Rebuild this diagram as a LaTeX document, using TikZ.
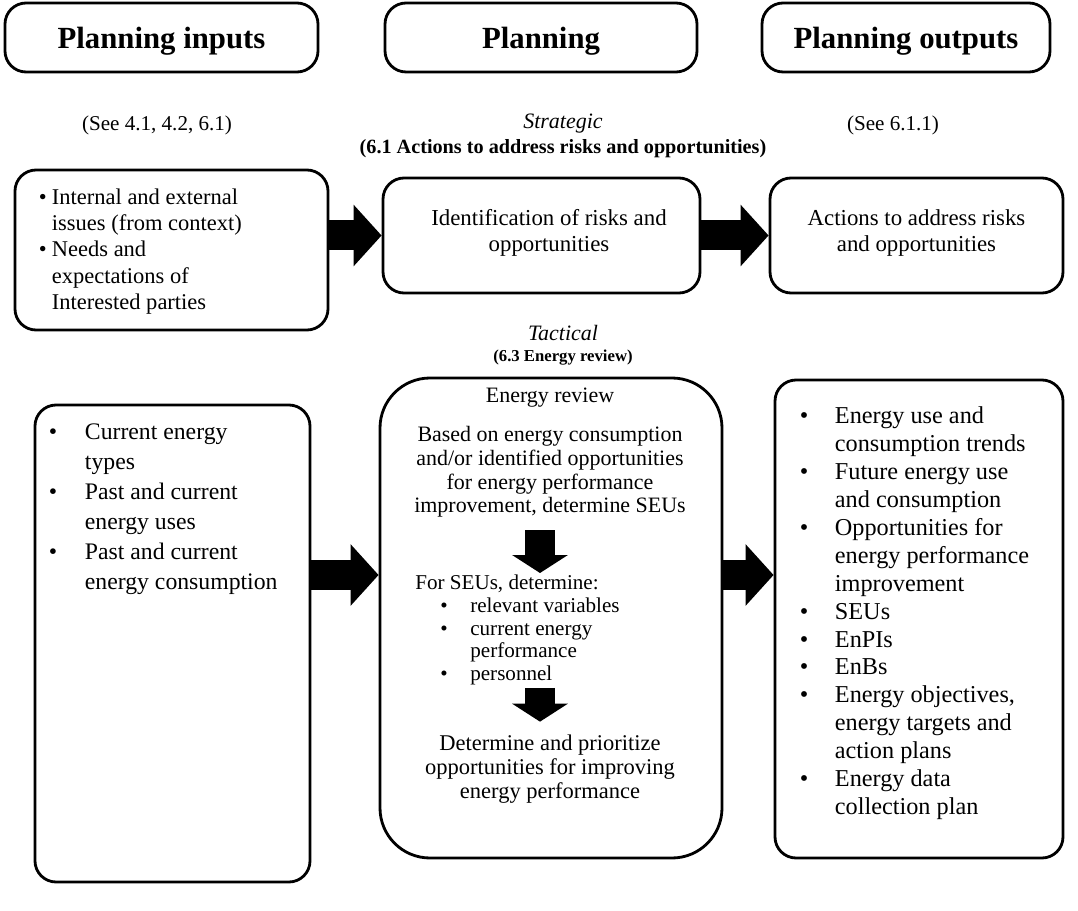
\documentclass[tikz,border=0pt]{standalone}
\usepackage{fontspec}
\usepackage{array}
\setmainfont{Liberation Serif}
\usetikzlibrary{arrows.meta, positioning, calc}
\tikzset{
	headbox/.style  ={rectangle, rounded corners=12pt, draw=black, line width=1.6pt, minimum height=1.38cm, text depth=0pt, font=\fontsize{17.5}{20}\selectfont\bfseries},
	infobox/.style  ={rectangle, rounded corners=12pt, draw=black, line width=1.6pt},
	reviewbox/.style={rectangle, rounded corners=1cm, draw=black, line width=1.6pt},
	boxtext/.style  ={align=center, inner sep=0pt, font=\fontsize{12.5}{13.5}\selectfont},
	listtext/.style ={inner sep=0pt, font=\fontsize{12}{14.5}\selectfont},
	refnote/.style  ={inner sep=1pt, font=\fontsize{12}{14}\selectfont},
	levelname/.style={inner sep=1pt, font=\fontsize{12.5}{14}\selectfont\itshape},
	levelref/.style ={inner sep=1pt, font=\fontsize{9.5}{11}\selectfont\bfseries},
	% block arrows
	blockarrow/.style={line width=0.6cm, -{Triangle[length=0.56cm, width=1.2cm]}},
	downarrow/.style ={line width=0.6cm, -{Triangle[length=0.36cm, width=1.1cm]}},
}
\newcommand{\bul}{\textbullet}

\begin{document}
\begin{tikzpicture}
	\useasboundingbox (0,0) rectangle (21.56,-18.22);
	% column heads
	\node[headbox, minimum width=6.26cm] (hin)   at (3.23,-0.75)  {Planning inputs};
	\node[headbox, minimum width=6.24cm] (hplan) at (10.82,-0.75) {Planning};
	\node[headbox, minimum width=5.76cm] (hout)  at (18.12,-0.75) {Planning outputs};
	\node[refnote] (seein)  at (3.14,-2.5)  {(See 4.1, 4.2, 6.1)};
	\node[refnote] (seeout) at (17.86,-2.5) {(See 6.1.1)};
	\node[levelname] (strat) at (11.26,-2.48) {Strategic};
	\node[levelref, below=1pt of strat, font=\fontsize{11.5}{13}\selectfont\bfseries] (stratref) {(6.1 Actions to address risks and opportunities)};

	% strategic row
	\node[infobox, minimum width=6.26cm, minimum height=3.2cm] (b1) at (3.43,-5.0) {};
	\node[infobox, minimum width=6.34cm, minimum height=2.3cm] (b2) at (10.83,-4.71) {};
	\node[infobox, minimum width=5.86cm, minimum height=2.3cm] (b3) at (18.33,-4.71) {};
	\node[listtext, anchor=west, font=\fontsize{12.8}{15}\selectfont] (t1) at ([xshift=0.5cm,yshift=-0.03cm]b1.west) {%
		\begin{tabular}{@{}>{\raggedright}p{0.26cm}@{}l@{}}
		\bul & Internal and external\\
		     & issues (from context)\\
		\bul & Needs and\\
		     & expectations of\\
		     & Interested parties
		\end{tabular}};
	\node[boxtext, font=\fontsize{13}{14.5}\selectfont] (t2) at ([xshift=0.15cm,yshift=0.05cm]b2.center) {Identification of risks and\\opportunities};
	\node[boxtext, font=\fontsize{13}{14.5}\selectfont] (t3) at ([yshift=0.05cm]b3.center) {Actions to address risks\\and opportunities};
	\draw[blockarrow] (b1.east |- b2.west) -- (b2.west);
	\draw[blockarrow] (b2.east) -- (b3.west);

	% tactical row
	\node[levelname] (tact) at (11.26,-6.66) {Tactical};
	\node[levelref, below=3pt of tact] (tactref) {(6.3 Energy review)};
	\node[infobox, minimum width=5.5cm, minimum height=9.54cm] (b4) at (3.45,-12.87) {};
	\node[reviewbox, minimum width=6.84cm, minimum height=9.6cm] (b5) at (11.02,-12.36) {};
	\node[infobox, minimum width=5.76cm, minimum height=9.56cm] (b6) at (18.38,-12.38) {};
	\node[listtext, anchor=north west, font=\fontsize{13.5}{17}\selectfont] (t4) at ([xshift=0.3cm,yshift=-0.3cm]b4.north west) {%
		\begin{tabular}{@{}p{0.72cm}@{}l@{}}
		\bul & Current energy\\
		     & types\\
		\bul & Past and current\\
		     & energy uses\\
		\bul & Past and current\\
		     & energy consumption
		\end{tabular}};
	\node[listtext, anchor=north west, font=\fontsize{13.8}{15.9}\selectfont] (t6) at ([xshift=0.52cm,yshift=-0.5cm]b6.north west) {%
		\begin{tabular}{@{}p{0.7cm}@{}l@{}}
		\bul & Energy use and\\
		     & consumption trends\\
		\bul & Future energy use\\
		     & and consumption\\
		\bul & Opportunities for\\
		     & energy performance\\
		     & improvement\\
		\bul & SEUs\\
		\bul & EnPIs\\
		\bul & EnBs\\
		\bul & Energy objectives,\\
		     & energy targets and\\
		     & action plans\\
		\bul & Energy data\\
		     & collection plan
		\end{tabular}};

	% inside the energy review
	\coordinate (ax) at (10.8,0);
	\node[boxtext] (rvtitle) at (11.0,-7.96) {Energy review};
	\node[boxtext] (rvpara) at (11.0,-9.44) {Based on energy consumption\\and/or identified opportunities\\for energy performance\\improvement, determine SEUs};
	\node[listtext, anchor=north west, font=\fontsize{12}{13}\selectfont] (seus) at (8.3,-11.46) {%
		\begin{tabular}{@{}l@{}}
		For SEUs, determine:\\
		\hspace{0.5cm}\begin{tabular}{@{}p{0.6cm}@{}l@{}}
		\bul & relevant variables\\
		\bul & current energy\\
		     & performance\\
		\bul & personnel
		\end{tabular}
		\end{tabular}};
	\node[boxtext, font=\fontsize{12.8}{13.8}\selectfont] (rvprio) at (11.0,-15.38) {Determine and prioritize\\opportunities for improving\\energy performance};
	\draw[downarrow, shorten <=0.25cm] (rvpara.south -| ax) -- (seus.north -| ax);
	\draw[downarrow, shorten <=0.0cm, shorten >=0.25cm] (seus.south -| ax) -- (rvprio.north -| ax);

	% block arrows of the tactical row
	\coordinate (ay) at (0,-11.5);
	\draw[blockarrow] (b4.east |- ay) -- (b5.west |- ay);
	\draw[blockarrow] (b5.east |- ay) -- (b6.west |- ay);
\end{tikzpicture}
\end{document}
